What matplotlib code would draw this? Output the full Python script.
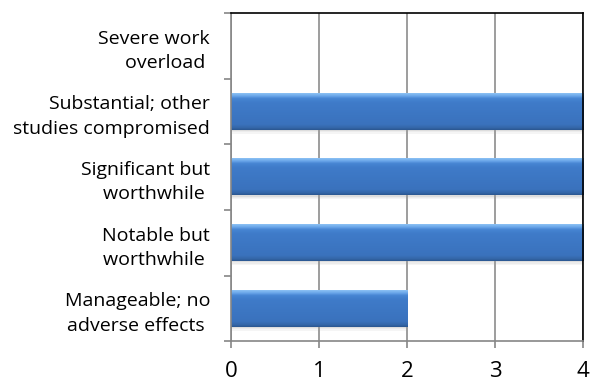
import numpy as np
import matplotlib.pyplot as plt
from matplotlib.colors import LinearSegmentedColormap

categories = ["Manageable; no\nadverse effects ",
              "Notable but\nworthwhile ",
              "Significant but\nworthwhile ",
              "Substantial; other\nstudies compromised",
              "Severe work\noverload "]
counts = [2, 4, 4, 4, 0]
x_ticks = [0, 1, 2, 3, 4]

plt.rcParams['font.family'] = ['Open Sans', 'DejaVu Sans']

fig = plt.figure(figsize=(5.92, 3.85), dpi=100)
ax = fig.add_axes([0.390, 0.114, 0.595, 0.852])

y = np.arange(len(categories))
bar_h = 0.56
bars = ax.barh(y, counts, height=bar_h, color='#3d7cc9', edgecolor='none', zorder=2)

# fake the excel bevel: dark bottom edge, flat body, light top rim
grad_cmap = LinearSegmentedColormap.from_list('bevel', [
    (0.0, '#2a5690'), (0.06, '#3567a9'), (0.15, '#3a72bd'),
    (0.75, '#3f7bc9'), (0.86, '#4786d3'), (0.92, '#68a4e8'), (1.0, '#8cc2f4')])
grad = np.linspace(0, 1, 128).reshape(-1, 1)
for b in bars:
    w = b.get_width()
    if w <= 0:
        continue
    y0 = b.get_y()
    # soft shadow under the bar
    for k, a in enumerate([0.35, 0.2, 0.1]):
        ax.add_patch(plt.Rectangle((0, y0 - 0.02 * (k + 1)), w, 0.02,
                                   color='#a0a0a0', alpha=a, lw=0, zorder=1.5))
    ax.imshow(grad, cmap=grad_cmap, aspect='auto', origin='lower',
              extent=(0, w, y0, y0 + bar_h), zorder=2.5, interpolation='bilinear')

ax.set_xlim(0, 4)
ax.set_ylim(-0.5, len(categories) - 0.5)
ax.set_xticks(x_ticks)
ax.set_xticklabels([str(t) for t in x_ticks], fontsize=16)

ax.set_yticks(y)
ax.set_yticklabels(categories, fontsize=14, ha='right', multialignment='right',
                   linespacing=1.45)
ax.tick_params(axis='y', length=0, pad=15)
ax.set_yticks(np.arange(-0.5, len(categories)), minor=True)
ax.tick_params(axis='y', which='minor', length=5, color='#868686', width=1.2)
ax.tick_params(axis='x', length=5, color='#868686', width=1.2, pad=9)

ax.grid(axis='x', color='#8c8c8c', lw=1.2, zorder=0)
ax.set_axisbelow(True)

ax.spines['left'].set_color('#868686')
ax.spines['bottom'].set_color('#868686')
ax.spines['top'].set_color('black')
ax.spines['right'].set_color('black')
for s in ax.spines.values():
    s.set_linewidth(1.2)

fig.savefig('out.png', dpi=100)
